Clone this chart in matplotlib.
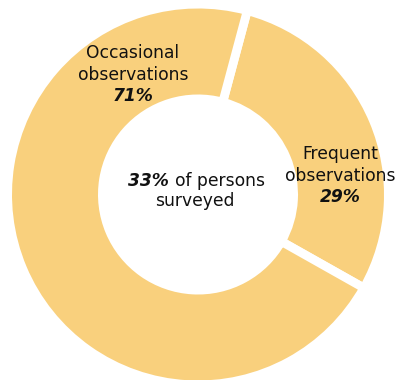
import matplotlib
matplotlib.use("Agg")
import matplotlib.pyplot as plt

categories = ["Frequent\nobservations", "Occasional\nobservations"]
values = [29, 71]
center_pct = 33
center_text = "of persons"
center_text2 = "surveyed"

color = "#F9D07D"
W, H = 395, 380
fig = plt.figure(figsize=(W / 100, H / 100), dpi=100)
ax = fig.add_axes([0, 0, 1, 1])

cx, cy = 198, H - 194.5
lw = 6.3
half = lw / 72 * 100 / 2
r_out = 186 + half
r_in = 100 - half
ax.pie(values, colors=[color, color], startangle=75, counterclock=False,
       radius=r_out, center=(cx, cy), frame=True,
       wedgeprops=dict(width=r_out - r_in, edgecolor="white", linewidth=lw))
ax.set_xlim(0, W)
ax.set_ylim(0, H)
ax.set_aspect("equal")
ax.axis("off")

fs = 12.3
tc = "#111111"
ls = 1.22
# Frequent label
ax.text(340, H - 165, categories[0], ha="center", va="center", fontsize=fs,
        color=tc, linespacing=ls)
ax.text(340, H - 197, f"{values[0]}%", ha="center", va="center", fontsize=fs,
        color=tc, fontweight="bold", fontstyle="italic")
# Occasional label
ax.text(133, H - 64, categories[1], ha="center", va="center", fontsize=fs,
        color=tc, linespacing=ls)
ax.text(133, H - 96, f"{values[1]}%", ha="center", va="center", fontsize=fs,
        color=tc, fontweight="bold", fontstyle="italic")
# Center
ax.text(169, H - 181, f"{center_pct}%", ha="right", va="center", fontsize=fs,
        color=tc, fontweight="bold", fontstyle="italic")
ax.text(175, H - 181, center_text, ha="left", va="center", fontsize=fs, color=tc)
ax.text(195, H - 201, center_text2, ha="center", va="center", fontsize=fs, color=tc)

fig.savefig("out.png", dpi=100)
